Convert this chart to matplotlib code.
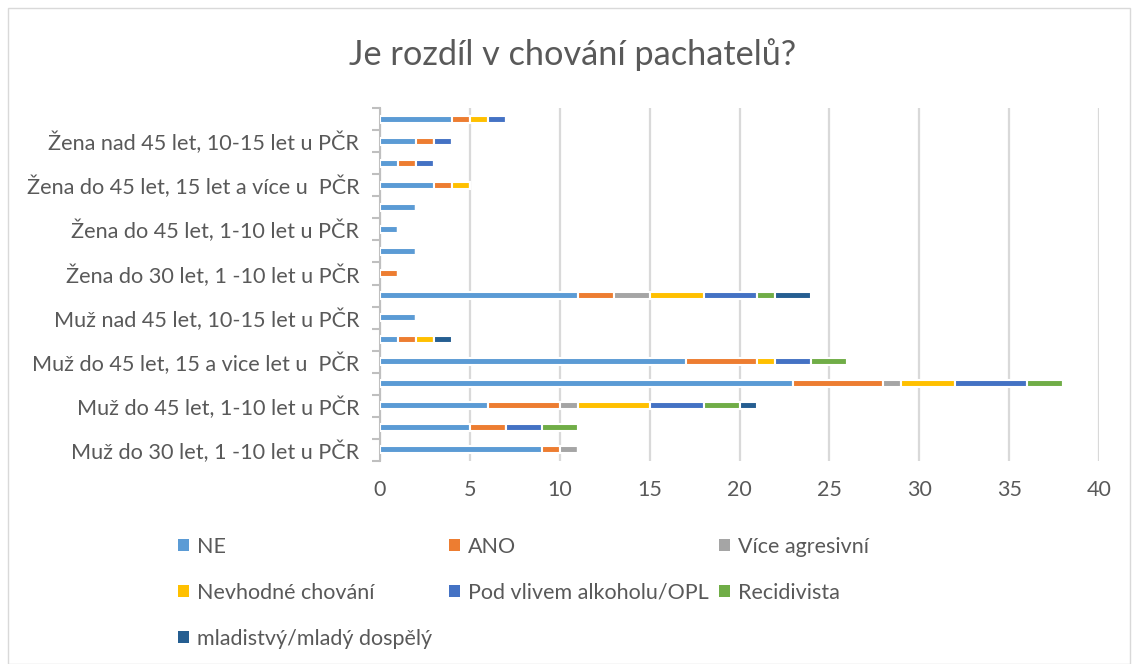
import matplotlib
matplotlib.use("Agg")
import matplotlib.pyplot as plt
from matplotlib.patches import Rectangle, Patch
import numpy as np

plt.rcParams['font.family'] = ['Lato', 'DejaVu Sans']

categories = [
    "Muž do 30 let, 1 -10 let u PČR",
    "Muž do 30 let, 10-15 let u PČR",
    "Muž do 45 let, 1-10 let u PČR",
    "Muž do 45 let, 10-15 let u PČR",
    "Muž do 45 let, 15 a vice let u  PČR",
    "Muž nad 45 let, 1-10 let u PČR",
    "Muž nad 45 let, 10-15 let u PČR",
    "Muž nad 45 let, 15 let a více u PČR",
    "Žena do 30 let, 1 -10 let u PČR",
    "Žena do 30 let, 10-15 let u PČR",
    "Žena do 45 let, 1-10 let u PČR",
    "Žena do 45 let, 10-15 let u PČR",
    "Žena do 45 let, 15 let a více u  PČR",
    "Žena nad 45 let, 1-10 let u PČR",
    "Žena nad 45 let, 10-15 let u PČR",
    "Žena nad 45 let, 15 let a více u PČR",
]

series_names = ["NE", "ANO", "Více agresivní", "Nevhodné chování",
                "Pod vlivem alkoholu/OPL", "Recidivista", "mladistvý/mladý dospělý"]

ne          = [9, 5, 6, 23, 17, 1, 2, 11, 0, 2, 1, 2, 3, 1, 2, 4]
ano         = [1, 2, 4, 5, 4, 1, 0, 2, 1, 0, 0, 0, 1, 1, 1, 1]
vice_agr    = [1, 0, 1, 1, 0, 0, 0, 2, 0, 0, 0, 0, 0, 0, 0, 0]
nevhodne    = [0, 0, 4, 3, 1, 1, 0, 3, 0, 0, 0, 0, 1, 0, 0, 1]
pod_vlivem  = [0, 2, 3, 4, 2, 0, 0, 3, 0, 0, 0, 0, 0, 1, 1, 1]
recidivista = [0, 2, 2, 2, 2, 0, 0, 1, 0, 0, 0, 0, 0, 0, 0, 0]
mladistvy   = [0, 0, 1, 0, 0, 1, 0, 2, 0, 0, 0, 0, 0, 0, 0, 0]

series = [ne, ano, vice_agr, nevhodne, pod_vlivem, recidivista, mladistvy]
colors = ["#5B9BD5", "#ED7D31", "#A5A5A5", "#FFC000", "#4472C4", "#70AD47", "#255E91"]

W, H = 1137, 664
fig = plt.figure(figsize=(W / 100, H / 100), dpi=100)
ax = fig.add_axes([380 / W, (H - 461) / H, (1099 - 380) / W, (461 - 108) / H])

y = np.arange(len(categories))
left = np.zeros(len(categories))
handles = []
for vals, name, c in zip(series, series_names, colors):
    vals = np.array(vals, dtype=float)
    ax.barh(y, vals, left=left, height=0.32, color=c, edgecolor="white",
            linewidth=1.5, label=name, zorder=3)
    left += vals
    handles.append(Patch(facecolor=c, edgecolor="none", label=name))

ax.set_xlim(0, 40)
ax.set_ylim(-0.5, len(categories) - 0.5)
ax.set_xticks(np.arange(0, 41, 5))
ax.tick_params(axis="x", length=0, labelsize=15.5, labelcolor="#595959", pad=14)
ax.grid(axis="x", color="#D9D9D9", linewidth=1.6, zorder=0)

ax.set_yticks(y[::2])
ax.set_yticklabels(categories[::2])
ax.set_yticks(np.arange(-0.5, len(categories), 1), minor=True)
ax.tick_params(axis="y", which="major", length=0, labelsize=15.6, labelcolor="#595959", pad=15)
ax.tick_params(axis="y", which="minor", length=6, color="#BFBFBF", width=1.5)

for s in ["top", "right", "bottom"]:
    ax.spines[s].set_visible(False)
ax.spines["left"].set_color("#BFBFBF")
ax.spines["left"].set_linewidth(1.5)

fig.text(573 / W, 1 - 55 / H, "Je rozdíl v chování pachatelů?", ha="center", va="center",
         fontsize=24.7, color="#595959")

# legend, three columns placed like the reference
cols = [[0, 3, 6], [1, 4], [2, 5]]
xs = [178, 449, 719]
for col, x0 in zip(cols, xs):
    fig.legend([handles[i] for i in col], [series_names[i] for i in col],
               loc="upper left", bbox_to_anchor=(x0 / W, 1 - 537 / H),
               frameon=False, fontsize=15.5, labelcolor="#595959",
               handlelength=0.5, handleheight=0.5, handletextpad=0.4,
               labelspacing=1.2, borderaxespad=0, borderpad=0)

fig.patches.append(Rectangle((8 / W, 0), (1130 - 8) / W, (H - 8) / H,
                             transform=fig.transFigure, fill=False,
                             edgecolor="#D9D9D9", linewidth=1))

fig.savefig("out.png", dpi=100)
